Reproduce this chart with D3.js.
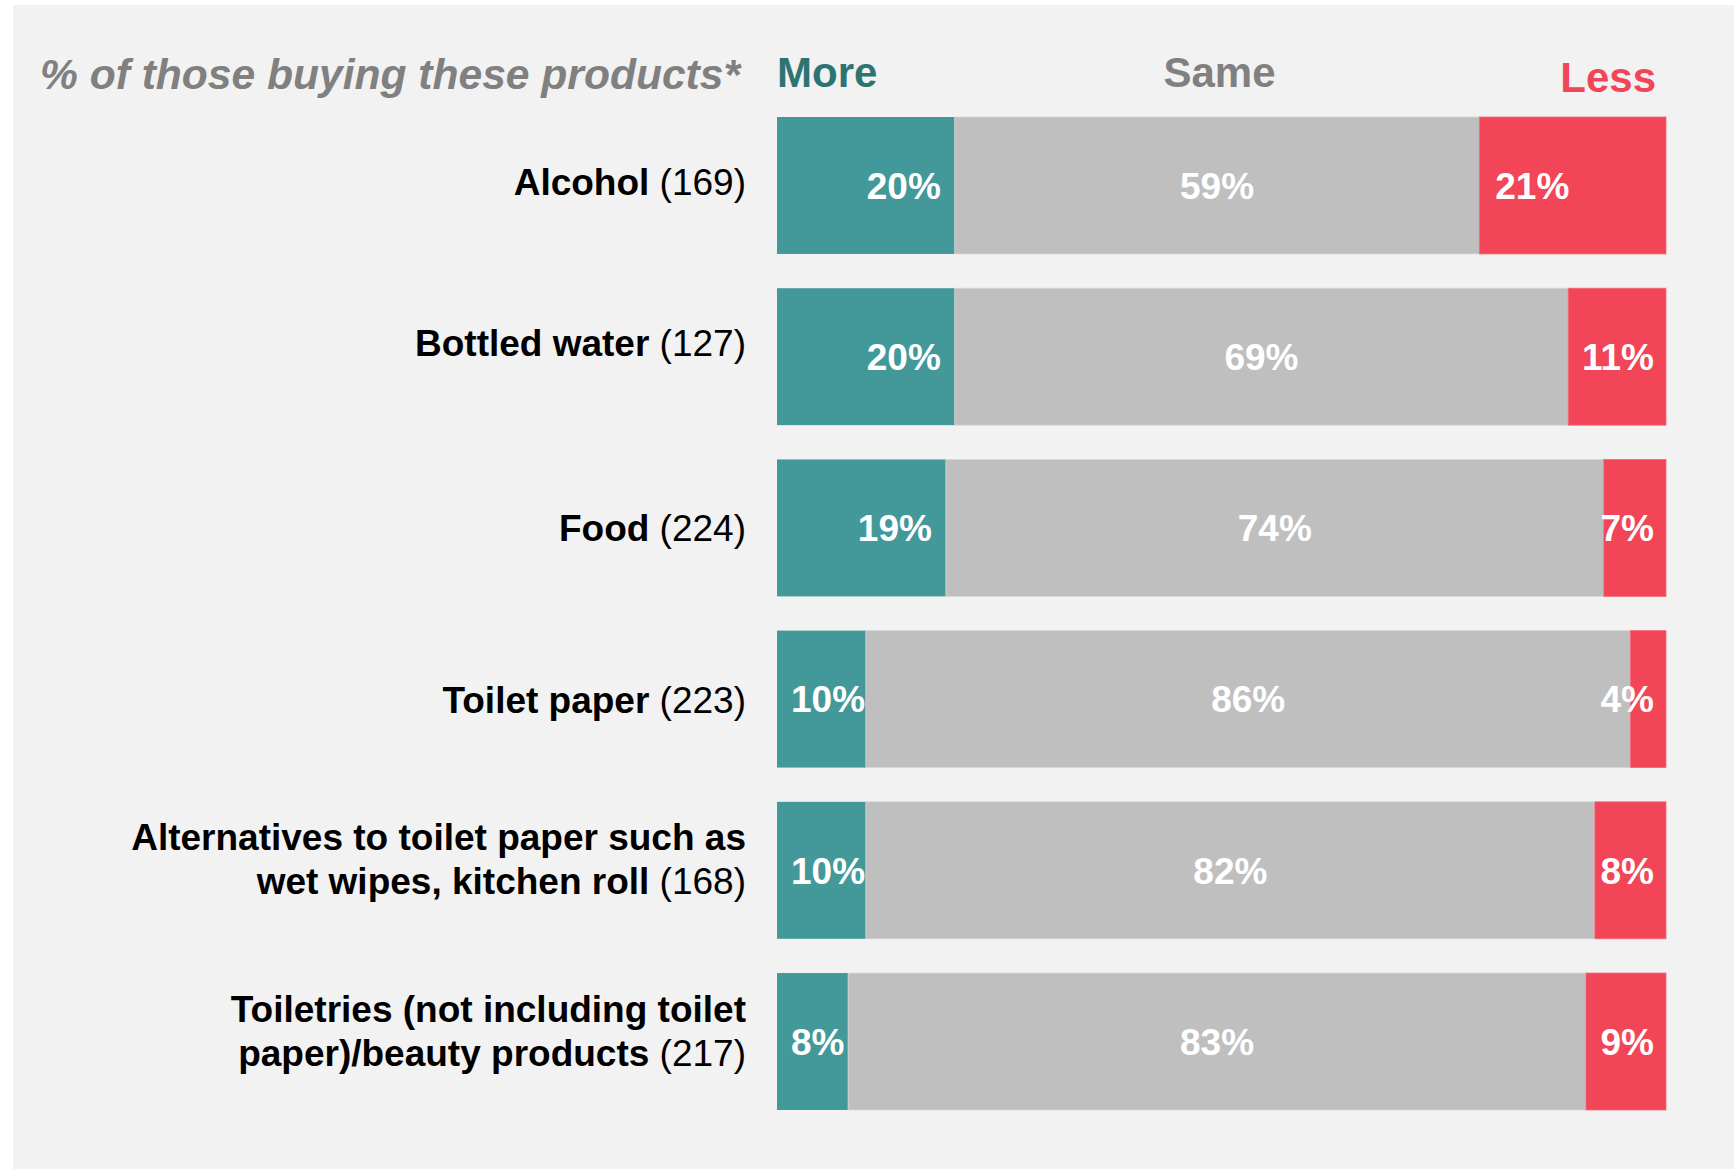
<!DOCTYPE html>
<html>
<head>
<meta charset="utf-8">
<script src="https://cdn.jsdelivr.net/npm/d3@7"></script>
<style>
  html, body { margin: 0; padding: 0; background: #ffffff; }
  svg { display: block; font-family: "Liberation Sans", Arial, sans-serif; }
</style>
</head>
<body>
<svg id="chart" width="1734" height="1171"></svg>
<script>
// Survey categories: bold name lines, plus respondent base shown in brackets
const categories = [
  "Alcohol",
  "Bottled water",
  "Food",
  "Toilet paper",
  "Alternatives to toilet paper such as wet wipes, kitchen roll",
  "Toiletries (not including toilet paper)/beauty products"
];
const labelLines = [
  ["Alcohol"],
  ["Bottled water"],
  ["Food"],
  ["Toilet paper"],
  ["Alternatives to toilet paper such as", "wet wipes, kitchen roll"],
  ["Toiletries (not including toilet", "paper)/beauty products"]
];
const bases = [169, 127, 224, 223, 168, 217];

// Share buying more / the same / less (percent)
const more = [20, 20, 19, 10, 10, 8];
const same = [59, 69, 74, 86, 82, 83];
const less = [21, 11, 7, 4, 8, 9];

const seriesKeys = ["More", "Same", "Less"];
const headerTitle = "% of those buying these products*";

const colors = { More: "#43999a", Same: "#bfbfbf", Less: "#f24557" };
const headColors = { More: "#2e7372", Same: "#808080", Less: "#f24557" };

const svg = d3.select("#chart");
const W = 1734, H = 1171;

// panel background
svg.append("rect").attr("x", 13).attr("y", 5).attr("width", W - 13).attr("height", 1164)
  .attr("fill", "#f2f2f2");

const x = d3.scaleLinear().domain([0, 100]).range([777, 1666]);
const y = d3.scaleBand().domain(categories).range([117, 1110]).paddingInner(0.2).paddingOuter(0);

const rows = categories.map((c, i) => ({ cat: c, i, More: more[i], Same: same[i], Less: less[i] }));
const stacked = d3.stack().keys(seriesKeys)(rows);

// bar segments
const layers = svg.append("g").selectAll("g").data(stacked).join("g")
  .attr("fill", d => colors[d.key]);
layers.selectAll("rect").data(d => d.map(s => ({ key: d.key, s }))).join("rect")
  .attr("x", d => x(d.s[0]))
  .attr("y", d => y(d.s.data.cat))
  .attr("width", d => x(d.s[1]) - x(d.s[0]))
  .attr("height", y.bandwidth())
  .attr("stroke", d => d.key === "Same" ? "#d6d6d6" : (d.key === "Less" ? "#f26b79" : "none"))
  .attr("stroke-width", d => d.key === "More" ? 0 : 0.8);

// value labels
const valG = svg.append("g").attr("fill", "#ffffff").attr("font-weight", "bold").attr("font-size", 37);
stacked.forEach(layer => {
  layer.forEach(s => {
    const v = s[1] - s[0];
    const cy = y(s.data.cat) + y.bandwidth() / 2;
    const t = valG.append("text").text(v + "%").attr("y", cy).attr("dy", "0.36em");
    const w = t.node().getComputedTextLength();
    let tx;
    if (layer.key === "More") {
      tx = Math.max(x(0) + 14, x(s[1]) - 14 - w);
    } else if (layer.key === "Same") {
      tx = (x(s[0]) + x(s[1])) / 2 - w / 2;
    } else {
      tx = Math.min(x(s[0]) + 16, x(100) - 12 - w);
    }
    t.attr("x", tx);
  });
});

// category labels
const labG = svg.append("g").attr("font-size", 37).attr("fill", "#000000").attr("text-anchor", "end");
const labelNudge = [-3, -14, 0, 1, -11, -11];
rows.forEach(r => {
  const lines = labelLines[r.i];
  const cy = y(r.cat) + y.bandwidth() / 2 + labelNudge[r.i];
  const lh = 44;
  lines.forEach((ln, k) => {
    const base = cy + 13 + (k - (lines.length - 1) / 2) * lh;
    const t = labG.append("text").attr("x", 746).attr("y", base);
    t.append("tspan").attr("font-weight", "bold").text(ln);
    if (k === lines.length - 1) {
      t.append("tspan").attr("font-weight", "normal").text(" (" + bases[r.i] + ")");
    }
  });
});

// header
svg.append("text").attr("x", 740).attr("y", 89).attr("text-anchor", "end")
  .attr("font-size", 42).attr("font-weight", "bold").attr("font-style", "italic")
  .attr("textLength", 700).attr("lengthAdjust", "spacingAndGlyphs")
  .attr("fill", "#808080").text(headerTitle);

svg.append("text").attr("x", x(0)).attr("y", 87).attr("font-size", 42).attr("font-weight", "bold")
  .attr("fill", headColors.More).text(seriesKeys[0]);
svg.append("text").attr("x", (x(0) + x(100)) / 2 - 2).attr("y", 87).attr("text-anchor", "middle")
  .attr("font-size", 42).attr("font-weight", "bold").attr("fill", headColors.Same).text(seriesKeys[1]);
svg.append("text").attr("x", x(100) - 10).attr("y", 92).attr("text-anchor", "end")
  .attr("font-size", 42).attr("font-weight", "bold").attr("fill", headColors.Less).text(seriesKeys[2]);
</script>
</body>
</html>
